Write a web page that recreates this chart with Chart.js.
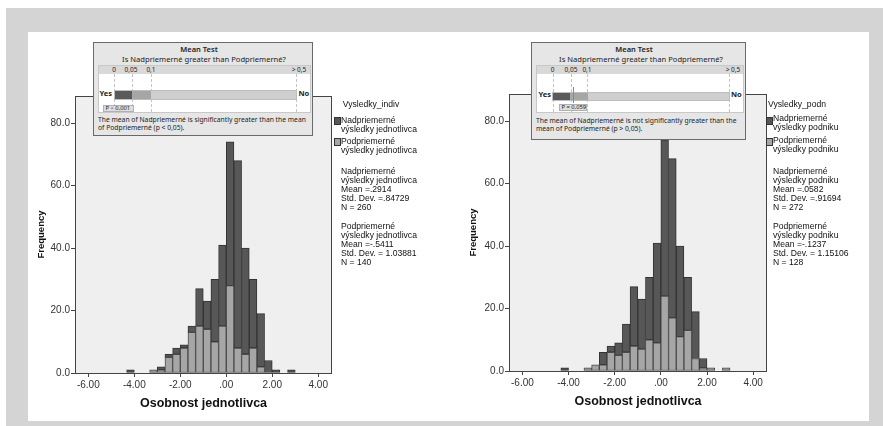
<!DOCTYPE html>
<html>
<head>
<meta charset="utf-8">
<script src="https://cdn.jsdelivr.net/npm/chart.js@4.4.0/dist/chart.umd.min.js"></script>
<style>
  body { margin: 0; background: #fff; }
  #page { position: relative; width: 883px; height: 426px; overflow: hidden; font-family: "Liberation Sans", Arial, sans-serif; }
  .frame { position: absolute; left: 6px; top: 8px; width: 877px; height: 418px; background: #d4d4d4; }
  .inner { position: absolute; left: 28px; top: 32px; width: 841px; height: 389px; background: #fff; }
  canvas { position: absolute; }
  .legend { position: absolute; font-size: 8.6px; color: #111; line-height: 9px; }
  .legend .ttl { position: absolute; white-space: nowrap; transform: translateX(-50%); }
  .legend .sw { position: absolute; width: 7px; height: 8px; border: 1px solid #333; box-sizing: border-box; }
  .legend .txt { position: absolute; white-space: nowrap; }
  .mt { position: absolute; background: #e6e6e6; border: 1px solid #6a6a6a; box-sizing: border-box;
        font-family: "Noto Sans", "Open Sans", sans-serif; font-size: 6.75px; color: #222; }
  .mt .c { position: absolute; white-space: nowrap; transform: translate(-50%, -50%); line-height: 1; }
  .mt .l { position: absolute; white-space: nowrap; transform: translateY(-50%); line-height: 1; }
  .mt .h1 { font-size: 7.5px; font-weight: 600; }
  .mt .h2 { font-size: 7.6px; }
  .mt .pnl { position: absolute; background: #fff; border: 1px solid #c8c8c8; box-sizing: border-box; }
  .mt .hdr { position: absolute; left: 0; top: 0; right: 0; height: 8px; background: #d9d9d9; }
  .mt .hl { font-size: 6.5px; }
  .mt .dash { position: absolute; top: 8px; bottom: 0; border-left: 1px dashed #c4c4c4; }
  .mt .bar { position: absolute; background: #cfcfcf; border: 1px solid #bdbdbd; box-sizing: border-box; }
  .mt .seg { position: absolute; top: 0; bottom: 0; }
  .mt .yn { position: absolute; font-weight: bold; transform: translateY(-50%); line-height: 1; font-size: 7.5px; }
  .mt .plab { position: absolute; background: #dedede; border: 1px solid #b0b0b0; box-sizing: border-box;
              font-size: 5.8px; line-height: 5px; padding-left: 2px; white-space: nowrap; }
</style>
</head>
<body>
<div id="page">
  <div class="frame"></div>
  <div class="inner"></div>

  <canvas id="chartIndiv" width="412" height="389" style="left:28px;top:32px"></canvas>
  <canvas id="chartPodn" width="407" height="389" style="left:462px;top:32px"></canvas>

  <!-- Legenda vlavo -->
  <div class="legend" style="left:0;top:0">
    <div class="ttl" style="left:371px;top:100px">Vysledky_indiv</div>
    <div class="sw" style="left:334px;top:117px;background:#575757"></div>
    <div class="txt" style="left:341px;top:115.5px">Nadpriemerné<br>výsledky jednotlivca</div>
    <div class="sw" style="left:334px;top:138px;background:#a6a6a6"></div>
    <div class="txt" style="left:341px;top:137px">Podpriemerné<br>výsledky jednotlivca</div>
    <div class="txt" style="left:341px;top:167px">Nadpriemerné<br>výsledky jednotlivca<br>Mean =.2914<br>Std. Dev. =.84729<br>N = 260</div>
    <div class="txt" style="left:341px;top:222px">Podpriemerné<br>výsledky jednotlivca<br>Mean =-.5411<br>Std. Dev. = 1.03881<br>N = 140</div>
  </div>

  <!-- Legenda vpravo -->
  <div class="legend" style="left:0;top:0">
    <div class="ttl" style="left:797px;top:100px">Vysledky_podn</div>
    <div class="sw" style="left:766px;top:117px;background:#575757"></div>
    <div class="txt" style="left:773px;top:114px">Nadpriemerné<br>výsledky podniku</div>
    <div class="sw" style="left:766px;top:138px;background:#a6a6a6"></div>
    <div class="txt" style="left:773px;top:135.5px">Podpriemerné<br>výsledky podniku</div>
    <div class="txt" style="left:773px;top:167px">Nadpriemerné<br>výsledky podniku<br>Mean =.0582<br>Std. Dev. =.91694<br>N = 272</div>
    <div class="txt" style="left:773px;top:222px">Podpriemerné<br>výsledky podniku<br>Mean =-.1237<br>Std. Dev. = 1.15106<br>N = 128</div>
  </div>

  <!-- Mean Test vlavo -->
  <div class="mt" style="left:93px;top:42px;width:220px;height:94px">
    <div class="c h1" style="left:105px;top:6.5px">Mean Test</div>
    <div class="c h2" style="left:110px;top:17px">Is Nadpriemerné greater than Podpriemerné?</div>
    <div class="pnl" style="left:4px;top:22px;width:213px;height:48px">
      <div class="hdr"></div>
      <div class="c hl" style="left:15px;top:4px">0</div>
      <div class="c hl" style="left:32px;top:4px">0,05</div>
      <div class="c hl" style="left:52px;top:4px">0,1</div>
      <div class="c hl" style="left:200px;top:4px">&gt; 0,5</div>
      <div class="dash" style="left:15px"></div>
      <div class="dash" style="left:33px"></div>
      <div class="dash" style="left:52px"></div>
      <div class="dash" style="left:197px"></div>
      <div class="yn" style="left:0.5px;top:28px">Yes</div>
      <div class="bar" style="left:15px;top:24px;width:183px;height:10px">
        <div class="seg" style="left:0;width:17px;background:#5a5a5a"></div>
        <div class="seg" style="left:17px;width:19px;background:#a6a6a6"></div>
      </div>
      <div class="yn" style="left:199.5px;top:28px">No</div>
      <div class="plab" style="left:3.5px;top:38.5px;width:31px;height:7px">P &lt; 0,001</div>
    </div>
    <div class="l" style="left:4px;top:77px">The mean of Nadpriemerné is significantly greater than the mean</div>
    <div class="l" style="left:4px;top:84.7px">of Podpriemerné (p &lt; 0,05).</div>
  </div>

  <!-- Mean Test vpravo -->
  <div class="mt" style="left:531px;top:42px;width:215px;height:98px">
    <div class="c h1" style="left:102px;top:7px">Mean Test</div>
    <div class="c h2" style="left:109px;top:17px">Is Nadpriemerné greater than Podpriemerné?</div>
    <div class="pnl" style="left:4px;top:22px;width:208px;height:48px">
      <div class="hdr"></div>
      <div class="c hl" style="left:15.7px;top:4px">0</div>
      <div class="c hl" style="left:34px;top:4px">0,05</div>
      <div class="c hl" style="left:50px;top:4px">0,1</div>
      <div class="c hl" style="left:196px;top:4px">&gt; 0,5</div>
      <div class="dash" style="left:15.7px"></div>
      <div class="dash" style="left:34px"></div>
      <div class="dash" style="left:50px"></div>
      <div class="dash" style="left:192px"></div>
      <div class="yn" style="left:1.5px;top:29px">Yes</div>
      <div class="bar" style="left:15px;top:25.5px;width:178px;height:9.5px">
        <div class="seg" style="left:0;width:17px;background:#5a5a5a"></div>
        <div class="seg" style="left:17px;width:18px;background:#a6a6a6"></div>
      </div>
      <div style="position:absolute;left:35.5px;top:21px;width:1px;height:16px;background:#8a8a8a"></div>
      <div class="yn" style="left:194px;top:29px">No</div>
      <div class="plab" style="left:21.5px;top:38px;width:28.5px;height:7px">P = 0,059</div>
    </div>
    <div class="l" style="left:4px;top:78px">The mean of Nadpriemerné is not significantly greater than the</div>
    <div class="l" style="left:4px;top:86.3px">mean of Podpriemerné (p &gt; 0,05).</div>
  </div>
</div>

<script>
// Hranice tried histogramu (šírka triedy 1/3)
const binEdges = [-4.333, -4.0, -3.667, -3.333, -3.0, -2.667, -2.333, -2.0, -1.667, -1.333, -1.0,
  -0.667, -0.333, 0.0, 0.333, 0.667, 1.0, 1.333, 1.667, 2.0, 2.333, 2.667, 3.0];

// Vysledky_indiv
const indivNad = [1, 0, 0, 0, 1, 1, 2, 1, 2, 12, 9, 20, 26, 46, 60, 34, 22, 17, 4, 1, 0, 1];
const indivPod = [0, 0, 0, 1, 1, 5, 6, 8, 13, 15, 14, 10, 15, 28, 8, 6, 8, 2, 0, 0, 0, 0];

// Vysledky_podn
const podnNad = [1, 0, 0, 0, 0, 4, 2, 4, 9, 19, 16, 20, 32, 50, 51, 29, 17, 15, 3, 0, 0, 0];
const podnPod = [0, 0, 0, 1, 2, 2, 6, 5, 6, 8, 7, 10, 9, 24, 17, 11, 13, 4, 1, 1, 0, 1];

// Osi
const xTicks = [-6, -4, -2, 0, 2, 4];
const xTickLabels = ['-6.00', '-4.00', '-2.00', '.00', '2.00', '4.00'];
const yTicks = [0, 20, 40, 60, 80];
const yTickLabels = ['0.0', '20.0', '40.0', '60.0', '80.0'];

const FONT = '"Liberation Sans", Arial, sans-serif';
const DARK = '#575757';
const LIGHT = '#a6a6a6';

const toPoints = (arr) => arr.map((v, i) => ({ x: (binEdges[i] + binEdges[i + 1]) / 2, y: v || null }));

// šedé pozadie a rám plochy grafu
const plotFrame = {
  id: 'plotFrame',
  beforeDatasetsDraw(chart) {
    const a = chart.chartArea;
    const ctx = chart.ctx;
    ctx.save();
    ctx.fillStyle = '#efefef';
    ctx.fillRect(a.left, a.top, a.right - a.left, a.bottom - a.top);
    ctx.restore();
  },
  afterDraw(chart) {
    const a = chart.chartArea;
    const ctx = chart.ctx;
    ctx.save();
    ctx.strokeStyle = '#444';
    ctx.lineWidth = 1;
    ctx.strokeRect(a.left + 0.5, a.top + 0.5, a.right - a.left - 1, a.bottom - a.top);
    ctx.restore();
  }
};

function makeHist(id, nad, pod, lay) {
  return new Chart(document.getElementById(id), {
    type: 'bar',
    data: {
      datasets: [
        { label: 'Podpriemerné', data: toPoints(pod), backgroundColor: LIGHT, borderColor: '#4a4a4a', borderWidth: 1, borderSkipped: false },
        { label: 'Nadpriemerné', data: toPoints(nad), backgroundColor: DARK, borderColor: '#333', borderWidth: 1, borderSkipped: false }
      ]
    },
    options: {
      responsive: false,
      animation: false,
      layout: { padding: { left: 0, top: lay.top, right: lay.right, bottom: 0 } },
      plugins: { legend: { display: false }, tooltip: { enabled: false } },
      datasets: { bar: { barPercentage: 1, categoryPercentage: 1 } },
      scales: {
        x: {
          type: 'linear', stacked: true, min: -6.58, max: 4.6, offset: false,
          afterBuildTicks: (s) => { s.ticks = xTicks.map((v) => ({ value: v })); },
          afterFit: (s) => { s.height = lay.xh; },
          ticks: { callback: (v) => xTickLabels[xTicks.indexOf(v)], font: { family: FONT, size: 10 }, color: '#333', padding: 2, maxRotation: 0 },
          grid: { offset: false, drawOnChartArea: false, drawTicks: true, tickLength: 4, color: '#444' },
          border: { display: false },
          title: { display: true, text: 'Osobnost jednotlivca', font: { family: FONT, size: 12.5, weight: 'bold' }, color: '#111', padding: { top: 0, bottom: lay.xtp } }
        },
        y: {
          stacked: true, min: 0, max: 88.7,
          afterBuildTicks: (s) => { s.ticks = yTicks.map((v) => ({ value: v })); },
          afterFit: (s) => { s.width = 47; },
          ticks: { callback: (v) => yTickLabels[yTicks.indexOf(v)], font: { family: FONT, size: 10 }, color: '#333', padding: 1 },
          grid: { drawOnChartArea: false, drawTicks: true, tickLength: 4, color: '#444' },
          border: { display: false },
          title: { display: true, text: 'Frequency', font: { family: FONT, size: 9.5, weight: 'bold' }, color: '#111', padding: { top: lay.ytp, bottom: 0 } }
        }
      }
    },
    plugins: [plotFrame]
  });
}

makeHist('chartIndiv', indivNad, indivPod, { top: 64, right: 108, xh: 48, xtp: 10.2, ytp: 7.3 });
makeHist('chartPodn', podnNad, podnPod, { top: 62, right: 102, xh: 50, xtp: 11.8, ytp: 5.3 });
</script>
</body>
</html>
